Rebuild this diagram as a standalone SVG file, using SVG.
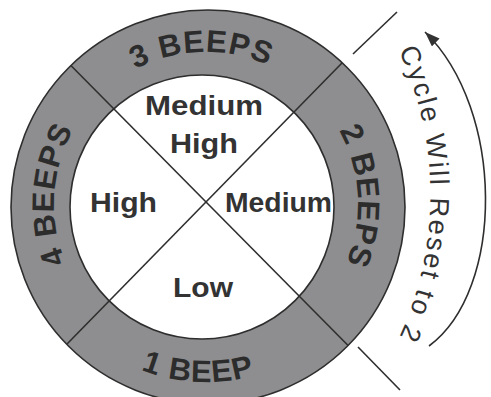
<svg xmlns="http://www.w3.org/2000/svg" width="491" height="397" viewBox="0 0 491 397">
  <style>
    .ring { fill: #8e8e90; stroke: #2e2e2e; stroke-width: 1.6; }
    .inner { fill: #ffffff; stroke: #2e2e2e; stroke-width: 1.6; }
    .ln { stroke: #2e2e2e; stroke-width: 1.6; fill: none; }
    .rt { font-family: "Liberation Sans", Arial, sans-serif; font-weight: bold; font-size: 31px; fill: #2c2c2c; letter-spacing: 1px; }
    .it { font-family: "Liberation Sans", Arial, sans-serif; font-weight: bold; font-size: 28px; fill: #333333; }
    .ct { font-family: "Liberation Sans", Arial, sans-serif; font-size: 27px; fill: #333333; letter-spacing: 2.3px; }
  </style>
  <defs>
    <path id="cw" d="M 206 356 A 152 152 0 1 1 206 52 A 152 152 0 1 1 206 356"/>
    <path id="ccw" d="M 28 204 A 178 178 0 0 0 384 204"/>
    <path id="cyc" d="M 396 45 A 342 342 0 0 1 393 350"/>
    <marker id="ah" markerUnits="userSpaceOnUse" markerWidth="16" markerHeight="12" refX="15" refY="5.5" orient="auto">
      <path d="M0,0 L15,5.5 L0,11 z" fill="#333333"/>
    </marker>
  </defs>
  <rect width="491" height="397" fill="#ffffff"/>

  <g id="dial">
    <circle class="ring" cx="208" cy="207" r="197"/>
    <circle class="inner" cx="202" cy="207" r="132"/>
  </g>

  <g id="connectors">
    <line class="ln" x1="70.9" y1="65.5" x2="348.1" y2="345.5"/>
    <line class="ln" x1="342.2" y1="62.8" x2="66.8" y2="344.3"/>
    <line class="ln" x1="353" y1="54" x2="397" y2="12"/>
    <line class="ln" x1="358" y1="347" x2="400" y2="390"/>
    <path class="ln" d="M 429 346 C 505 290, 505 110, 425 32" marker-end="url(#ah)"/>
  </g>

  <g id="ring-labels">
    <text class="rt" text-anchor="middle"><textPath href="#cw" startOffset="248">4 BEEPS</textPath></text>
    <text class="rt" text-anchor="middle"><textPath href="#cw" startOffset="473">3 BEEPS</textPath></text>
    <text class="rt" text-anchor="middle"><textPath href="#cw" startOffset="708">2 BEEPS</textPath></text>
    <text class="rt" text-anchor="middle"><textPath href="#ccw" startOffset="271">1 BEEP</textPath></text>
  </g>

  <g id="medium-high">
    <text class="it" x="145" y="115" textLength="118" lengthAdjust="spacingAndGlyphs">Medium</text>
    <text class="it" x="170" y="153" textLength="68" lengthAdjust="spacingAndGlyphs">High</text>
  </g>
  <g id="high">
    <text class="it" x="90" y="212" textLength="67" lengthAdjust="spacingAndGlyphs">High</text>
  </g>
  <g id="medium">
    <text class="it" x="225" y="212" textLength="107" lengthAdjust="spacingAndGlyphs">Medium</text>
  </g>
  <g id="low">
    <text class="it" x="173" y="297" textLength="60" lengthAdjust="spacingAndGlyphs">Low</text>
  </g>

  <g id="cycle-note">
    <text class="ct"><textPath href="#cyc" startOffset="6">Cycle Will Reset to 2</textPath></text>
  </g>
</svg>
